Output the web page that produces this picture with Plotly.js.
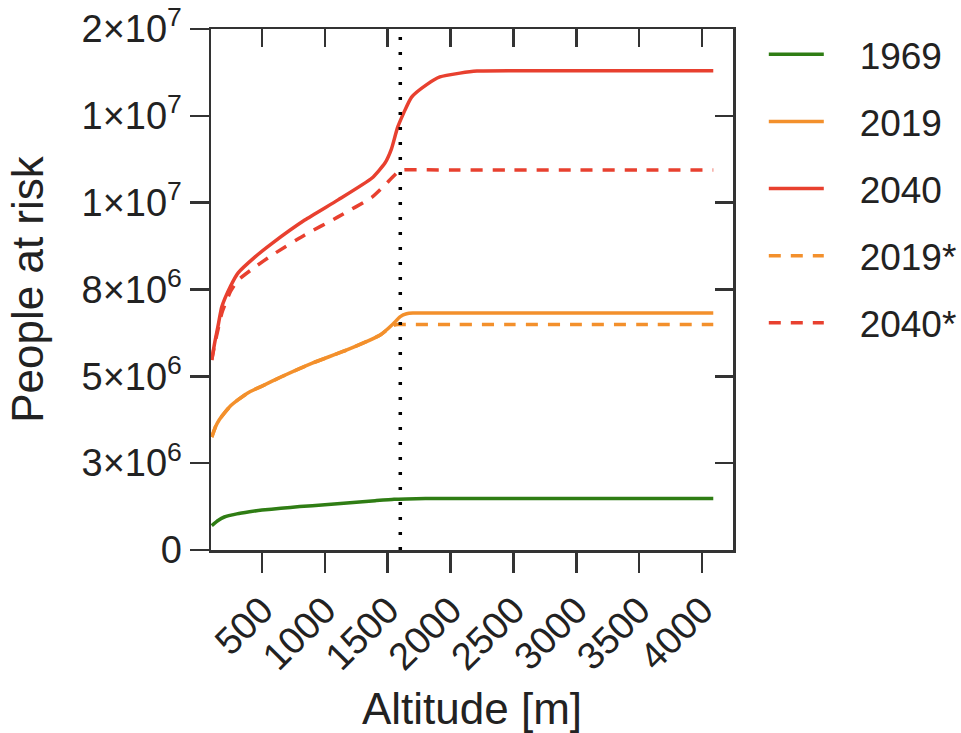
<!DOCTYPE html>
<html>
<head>
<meta charset="utf-8">
<script src="https://cdn.plot.ly/plotly-3.0.1.min.js"></script>
<style>html,body{margin:0;padding:0;background:#fff;}#chart{width:961px;height:733px;}</style>
</head>
<body>
<div id="chart"></div>
<script>
// ---- data ----
const alt1969 = [100, 150, 200, 300, 400, 500, 650, 800, 1000, 1200, 1400, 1550, 1650, 1800, 2000, 2500, 3000, 3500, 4090];
const pop1969 = [0.70e6, 0.85e6, 0.95e6, 1.04e6, 1.10e6, 1.15e6, 1.20e6, 1.25e6, 1.30e6, 1.36e6, 1.42e6, 1.46e6, 1.47e6, 1.48e6, 1.48e6, 1.48e6, 1.48e6, 1.48e6, 1.48e6];

const alt2019 = [100, 130, 160, 200, 250, 300, 400, 500, 650, 900, 1175, 1440, 1540, 1600, 1650, 1700, 2000, 2500, 3000, 3500, 4090];
const pop2019 = [3.25e6, 3.55e6, 3.75e6, 3.94e6, 4.15e6, 4.30e6, 4.55e6, 4.72e6, 4.98e6, 5.38e6, 5.76e6, 6.19e6, 6.50e6, 6.72e6, 6.80e6, 6.82e6, 6.82e6, 6.82e6, 6.82e6, 6.82e6, 6.82e6];

const alt2019s = [100, 130, 160, 200, 250, 300, 400, 500, 650, 900, 1175, 1440, 1540, 1580, 2000, 2500, 3000, 3500, 4090];
const pop2019s = [3.25e6, 3.55e6, 3.75e6, 3.94e6, 4.15e6, 4.30e6, 4.55e6, 4.72e6, 4.98e6, 5.38e6, 5.76e6, 6.19e6, 6.46e6, 6.49e6, 6.49e6, 6.49e6, 6.49e6, 6.49e6, 6.49e6];

const alt2040 = [100, 125, 150, 180, 250, 310, 445, 580, 840, 1105, 1375, 1478, 1530, 1580, 1690, 1810, 1915, 2075, 2210, 2500, 3000, 3500, 4090];
const pop2040 = [5.47e6, 6.00e6, 6.45e6, 7.00e6, 7.60e6, 7.98e6, 8.44e6, 8.83e6, 9.50e6, 10.08e6, 10.71e6, 11.14e6, 11.55e6, 12.18e6, 13.04e6, 13.40e6, 13.62e6, 13.73e6, 13.79e6, 13.80e6, 13.80e6, 13.80e6, 13.80e6];

const alt2040s = [100, 125, 150, 180, 250, 310, 445, 580, 840, 1105, 1375, 1478, 1580, 1620, 2000, 2500, 3000, 3500, 4090];
const pop2040s = [5.47e6, 5.95e6, 6.35e6, 6.82e6, 7.45e6, 7.77e6, 8.15e6, 8.49e6, 9.07e6, 9.59e6, 10.16e6, 10.51e6, 10.88e6, 10.94e6, 10.94e6, 10.94e6, 10.94e6, 10.94e6, 10.94e6];

const seriesNames = ['1969', '2019', '2040', '2019*', '2040*'];
const thresholdAlt = 1600;
const xTickVals = [500, 1000, 1500, 2000, 2500, 3000, 3500, 4000];
const xTickText = ['500', '1000', '1500', '2000', '2500', '3000', '3500', '4000'];
const yTickVals = [0, 2.5e6, 5e6, 7.5e6, 1e7, 1.25e7, 1.5e7];
const yTickText = ['0', '3×10<sup>6</sup>', '5×10<sup>6</sup>', '8×10<sup>6</sup>', '1×10<sup>7</sup>', '1×10<sup>7</sup>', '2×10<sup>7</sup>'];
const xRange = [94, 4247];
const yRange = [0, 1.5e7];

const GREEN = '#2f7d14', ORANGE = '#f3902c', RED = '#e8402f';
const FONT = 'Liberation Sans, Arial, sans-serif';
const PAD = '\u00a0\u00a0\u00a0';
const lineShape = {shape: 'spline', smoothing: 0.5, width: 3.5};

const traces = [
  {x: alt1969, y: pop1969, name: PAD + seriesNames[0], mode: 'lines', line: Object.assign({color: GREEN}, lineShape), legendgroup: 'a'},
  {x: alt2019, y: pop2019, name: PAD + seriesNames[1], mode: 'lines', line: Object.assign({color: ORANGE}, lineShape), legendgroup: 'b'},
  {x: alt2040, y: pop2040, name: PAD + seriesNames[2], mode: 'lines', line: Object.assign({color: RED}, lineShape), legendgroup: 'c'},
  {x: alt2019s, y: pop2019s, name: PAD + seriesNames[3], mode: 'lines', line: Object.assign({color: ORANGE, dash: '12px,10px'}, lineShape), legendgroup: 'd'},
  {x: alt2040s, y: pop2040s, name: PAD + seriesNames[4], mode: 'lines', line: Object.assign({color: RED, dash: '12px,10px'}, lineShape), legendgroup: 'e'},
  {x: [thresholdAlt, thresholdAlt], y: yRange, xaxis: 'x2', yaxis: 'y2', mode: 'lines', showlegend: false, hoverinfo: 'skip',
   line: {color: '#000', width: 3.5, dash: '3px,12px'}}
];

const axisCommon = {
  showgrid: false, zeroline: false, showline: true, linecolor: '#333', linewidth: 2.5,
  tickcolor: '#333', tickwidth: 2.5, tickfont: {family: FONT, size: 38, color: '#222'}
};

const layout = {
  width: 961, height: 733,
  margin: {l: 211, r: 228, t: 29, b: 183, autoexpand: false},
  paper_bgcolor: '#fff', plot_bgcolor: '#fff',
  font: {family: FONT, color: '#222'},
  showlegend: true,
  legend: {x: 1.059, xanchor: 'left', y: 1.01, yanchor: 'top', font: {family: FONT, size: 37, color: '#222'},
           tracegroupgap: 16, itemwidth: 55, bgcolor: 'rgba(0,0,0,0)'},
  xaxis: Object.assign({}, axisCommon, {
    range: xRange, tickmode: 'array', tickvals: xTickVals, ticktext: xTickText,
    ticks: 'outside', ticklen: 20, tickangle: -45, automargin: false,
    title: {text: 'Altitude [m]', font: {family: FONT, size: 44, color: '#222'}, standoff: 20}
  }),
  yaxis: Object.assign({}, axisCommon, {
    range: yRange, tickmode: 'array', tickvals: yTickVals, ticktext: yTickText,
    ticks: 'outside', ticklen: 19, automargin: false,
    title: {text: 'People at risk', font: {family: FONT, size: 44, color: '#222'}, standoff: 24}
  }),
  xaxis2: Object.assign({}, axisCommon, {
    overlaying: 'x', side: 'top', anchor: 'y2', range: xRange, tickmode: 'array', tickvals: xTickVals,
    ticks: 'inside', ticklen: 18, showticklabels: false
  }),
  yaxis2: Object.assign({}, axisCommon, {
    overlaying: 'y', side: 'right', anchor: 'x2', range: yRange, tickmode: 'array', tickvals: yTickVals,
    ticks: 'inside', ticklen: 18, showticklabels: false
  })
};

Plotly.newPlot('chart', traces, layout, {staticPlot: true, displayModeBar: false});
</script>
</body>
</html>
